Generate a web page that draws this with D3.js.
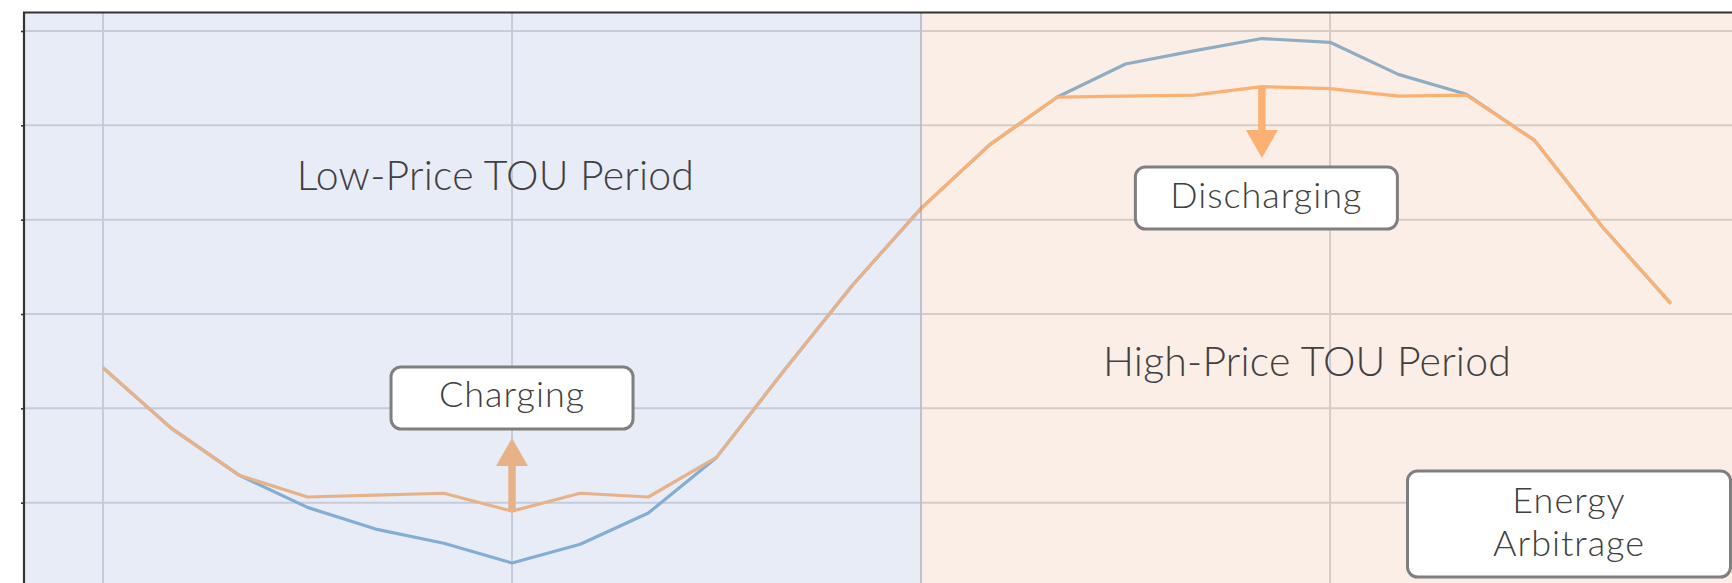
<!DOCTYPE html>
<html>
<head>
<meta charset="utf-8">
<script src="https://cdn.jsdelivr.net/npm/d3@7"></script>
<style>
  html, body { margin: 0; padding: 0; background: #ffffff; }
  svg { display: block; }
  text { font-family: Lato, "Open Sans", sans-serif; fill: #404040; }
</style>
</head>
<body>
<svg id="chart" width="1732" height="583"></svg>
<script>
// Hour of day for each sample
const hours = [0, 1, 2, 3, 4, 5, 6, 7, 8, 9, 10, 11, 12, 13, 14, 15, 16, 17, 18, 19, 20, 21, 22, 23];
// Original demand profile (blue)
const baseLoad = [2.43, 1.79, 1.29, 0.95, 0.72, 0.57, 0.36, 0.56, 0.89, 1.48, 2.41, 3.31,
                  4.12, 4.79, 5.30, 5.65, 5.79, 5.92, 5.88, 5.54, 5.33, 4.84, 3.92, 3.11];
// Demand after storage charges / discharges (orange)
const netLoad  = [2.43, 1.79, 1.29, 1.06, 1.08, 1.10, 0.91, 1.10, 1.06, 1.48, 2.41, 3.31,
                  4.12, 4.79, 5.30, 5.31, 5.32, 5.41, 5.39, 5.31, 5.32, 4.84, 3.92, 3.11];
// Vertical grid positions (hours) and horizontal grid levels
const hourTicks = [0, 6, 12, 18];
const loadTicks = [1, 2, 3, 4, 5, 6];
// Time-of-use split
const touBoundary = 12;
// Text labels
const periodLabels = ["Low-Price TOU Period", "High-Price TOU Period"];
const actionLabels = ["Charging", "Discharging"];
const titleLines = ["Energy", "Arbitrage"];

const W = 1732, H = 583;
const plotLeft = 24, plotTop = 12.5;

const svg = d3.select("#chart");

const x = d3.scaleLinear().domain([0, 23]).range([103, 103 + 23 * 68.17]);
const y = d3.scaleLinear().domain([0, 6]).range([597, 31]);

const BLUE = "#1f77b4", ORANGE = "#ff7f0e";

// Plot background
svg.append("rect").attr("x", plotLeft).attr("y", plotTop)
  .attr("width", W - plotLeft).attr("height", H - plotTop).attr("fill", "#ffffff");

// Grid
const grid = svg.append("g");
grid.selectAll("line.h").data(loadTicks).join("line")
  .attr("x1", plotLeft).attr("x2", W)
  .attr("y1", d => y(d)).attr("y2", d => y(d))
  .attr("stroke", "#b4b7be").attr("stroke-width", 2);
grid.selectAll("line.v").data(hourTicks).join("line")
  .attr("y1", plotTop).attr("y2", H)
  .attr("x1", d => x(d)).attr("x2", d => x(d))
  .attr("stroke", "#b4b7be").attr("stroke-width", 2);

// Load curves
const line = d3.line().x((d, i) => x(hours[i])).y(d => y(d));
svg.append("path").datum(baseLoad).attr("d", line)
  .attr("fill", "none").attr("stroke", BLUE).attr("stroke-width", 3.2)
  .attr("stroke-linejoin", "round");
svg.append("path").datum(netLoad).attr("d", line)
  .attr("fill", "none").attr("stroke", ORANGE).attr("stroke-width", 3.2)
  .attr("stroke-linejoin", "round");

// Charge / discharge arrows
function arrow(hour, fromVal, tipY) {
  const cx = x(hour);
  const y0 = y(fromVal);
  const dir = tipY < y0 ? -1 : 1;
  const headLen = 28, headHalf = 16, shaft = 7.5;
  const baseY = tipY - dir * headLen;
  svg.append("line").attr("x1", cx).attr("x2", cx)
    .attr("y1", y0).attr("y2", baseY)
    .attr("stroke", ORANGE).attr("stroke-width", shaft);
  svg.append("path")
    .attr("d", `M${cx},${tipY}L${cx - headHalf},${baseY}L${cx + headHalf},${baseY}Z`)
    .attr("fill", ORANGE);
}
arrow(6, netLoad[6], 438);
arrow(17, netLoad[17], 158);

// Shaded TOU periods (translucent washes over the curves)
svg.append("rect").attr("x", plotLeft).attr("y", plotTop)
  .attr("width", x(touBoundary) - 0.5 - plotLeft).attr("height", H - plotTop)
  .attr("fill", "rgb(213,220,239)").attr("fill-opacity", 0.55);
svg.append("rect").attr("x", x(touBoundary) + 0.5).attr("y", plotTop)
  .attr("width", W - x(touBoundary)).attr("height", H - plotTop)
  .attr("fill", "rgb(247,222,207)").attr("fill-opacity", 0.52);

// Frame: top spine and left axis with ticks
svg.append("line").attr("x1", plotLeft - 1).attr("x2", W)
  .attr("y1", plotTop).attr("y2", plotTop)
  .attr("stroke", "#333333").attr("stroke-width", 2.2);
const yAxis = d3.axisLeft(y).tickValues(loadTicks).tickSize(3).tickFormat("");
const ax = svg.append("g").attr("transform", `translate(${plotLeft},0)`).call(yAxis);
ax.select(".domain").remove();
ax.append("line").attr("x1", 0).attr("x2", 0).attr("y1", plotTop).attr("y2", H)
  .attr("stroke", "#333333").attr("stroke-width", 2.2);
ax.selectAll(".tick line").attr("stroke", "#333333").attr("stroke-width", 1.6);

// Period labels
svg.append("text").attr("x", 495.5).attr("y", 190).attr("text-anchor", "middle")
  .attr("font-size", 41).attr("font-weight", 300).attr("letter-spacing", 0.2)
  .text(periodLabels[0]);
svg.append("text").attr("x", 1307).attr("y", 376).attr("text-anchor", "middle")
  .attr("font-size", 41).attr("font-weight", 300).attr("letter-spacing", 0.2)
  .text(periodLabels[1]);

// Label boxes
function labelBox(cx, top, w, h, lines, baselines) {
  svg.append("rect").attr("x", cx - w / 2).attr("y", top)
    .attr("width", w).attr("height", h).attr("rx", 10).attr("ry", 10)
    .attr("fill", "#ffffff").attr("stroke", "#7f7f7f").attr("stroke-width", 3);
  lines.forEach((t, i) => {
    svg.append("text").attr("x", cx).attr("y", baselines[i])
      .attr("text-anchor", "middle").attr("font-size", 36).attr("font-weight", 300)
      .attr("letter-spacing", 1)
      .text(t);
  });
}
labelBox(x(6), 367, 242, 62, [actionLabels[0]], [407]);
labelBox(x(17) + 4.5, 167, 262, 62, [actionLabels[1]], [208]);
labelBox(1569, 471, 323, 106, titleLines, [513, 556]);
</script>
</body>
</html>
